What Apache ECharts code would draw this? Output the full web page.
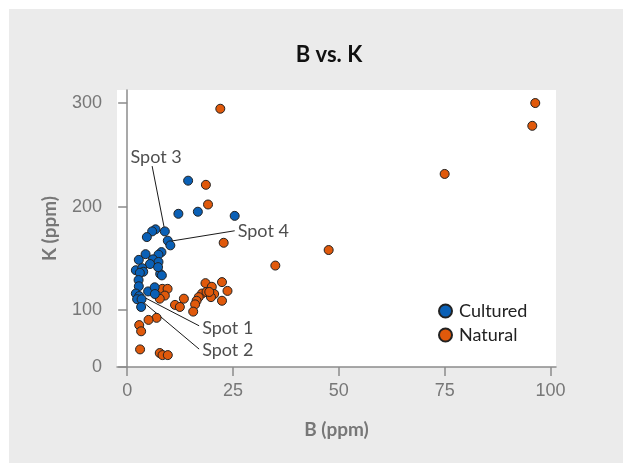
<!DOCTYPE html>
<html>
<head>
<meta charset="utf-8">
<script src="https://cdn.jsdelivr.net/npm/echarts@6/dist/echarts.min.js"></script>
<style>
  html, body { margin: 0; padding: 0; background: #ffffff; width: 623px; height: 463px; overflow: hidden; }
  #chart { position: absolute; left: 9px; top: 9px; width: 614px; height: 454px; background: #ebebeb; }
</style>
</head>
<body>
<div id="chart"></div>
<script>
// ---- data ----
const culturedB = [14.4, 12.1, 16.7, 25.4, 8.9, 6.7, 5.9, 4.65, 9.6, 10.2, 8.1, 7.4, 4.35, 6.1, 7.4, 2.75, 5.4, 2.05, 3.55, 3.8, 3.0, 7.8, 8.2, 2.7, 2.75, 4.95, 6.5, 6.55, 2.05, 2.85, 2.35, 3.4, 3.3, 7.3];
const culturedK = [225, 193, 195, 191, 176, 178, 176, 170.5, 167, 162.5, 156, 153.5, 154, 149, 146.5, 148.5, 144.5, 138.5, 140.5, 137, 136, 135, 133.5, 129, 123, 118, 122, 115.5, 116, 113.5, 110.5, 110.5, 103, 141.5];
const naturalB = [22.0, 18.6, 19.1, 22.8, 47.6, 35.0, 96.4, 95.7, 75.0, 18.5, 22.4, 20.0, 23.7, 17.7, 18.75, 20.55, 19.8, 22.4, 16.9, 16.4, 16.05, 15.6, 13.4, 11.3, 12.45, 8.3, 9.55, 8.9, 7.7, 6.95, 5.05, 2.85, 3.3, 3.05, 7.7, 8.35, 9.6, 19.4];
const naturalK = [294.5, 221, 202, 165, 158, 143, 300, 278, 231.5, 126, 127, 122.5, 118.5, 116, 117.5, 115.5, 112.5, 109, 112.5, 109, 105.5, 98.5, 111, 105, 103, 120.5, 120.5, 114, 111, 92.5, 90.5, 85.5, 79.5, 62, 58.5, 56.5, 56.5, 117.5];

const seriesNames = ['Cultured', 'Natural'];
const xTickValues = [0, 25, 50, 75, 100];
const yMin = 45;
const yTickValues = [yMin, 100, 200, 300];
const yTickLabels = ['0', '100', '200', '300'];

// annotations: label, label anchor [B, K], target point [B, K]
const annotLabels = ['Spot 1', 'Spot 2', 'Spot 3', 'Spot 4'];
const annotFrom = [[17.0, 84.8], [17.0, 62.3], [5.9, 239.1], [25.4, 176.6]];
const annotTo = [[2.05, 116.5], [2.4, 112.5], [8.9, 176.5], [10.5, 166.7]];

// ---- chart ----
const chart = echarts.init(document.getElementById('chart'), null, { renderer: 'canvas' });
const colors = ['#0a60b6', '#e0590b'];
const pairs = (a, b) => a.map((v, i) => [v, b[i]]);

const annotLineSeries = annotLabels.map((lab, i) => ({
  type: 'line',
  name: 'annot-' + lab,
  data: [annotFrom[i], annotTo[i]],
  symbol: 'none',
  silent: true,
  z: 1,
  lineStyle: { color: '#1a1a1a', width: 1 },
  animation: false
}));

const labelPos = ['right', 'right', 'top', 'right'];
const labelOffset = [[0, 2], [0, 1], [4, 3], [0, 0]];
const annotLabelSeries = {
  type: 'scatter',
  name: 'annot-labels',
  symbolSize: 0,
  silent: true,
  z: 5,
  data: annotLabels.map((lab, i) => ({
    name: lab,
    value: annotFrom[i],
    label: {
      show: true,
      formatter: lab,
      position: labelPos[i],
      distance: 3,
      offset: labelOffset[i],
      color: '#222',
      fontFamily: 'Lato',
      fontSize: 18
    }
  })),
  animation: false
};

const option = {
  backgroundColor: '#ebebeb',
  animation: false,
  title: {
    text: 'B vs. K',
    left: 315,
    textAlign: 'center',
    top: 30,
    textStyle: { fontFamily: 'Lato', fontWeight: 'bold', fontSize: 22, color: '#111' }
  },
  legend: {
    data: seriesNames,
    orient: 'vertical',
    left: 424,
    top: 288,
    icon: 'circle',
    itemWidth: 17,
    itemHeight: 13,
    itemGap: 6,
    textStyle: { fontFamily: 'Lato', fontSize: 18, color: '#222' }
  },
  grid: {
    left: 108, top: 81, right: 67, bottom: 96,
    show: true, backgroundColor: '#ffffff', borderWidth: 0
  },
  xAxis: {
    type: 'value',
    min: -2.4, max: 101.3,
    name: 'B (ppm)',
    nameLocation: 'middle',
    nameGap: 53,
    nameTextStyle: { fontFamily: 'Lato', fontWeight: 'bold', fontSize: 19, color: '#777' },
    axisLine: { show: true, lineStyle: { color: '#8c8c8c', width: 1.5 } },
    axisTick: { show: true, length: 9, customValues: xTickValues, lineStyle: { color: '#8c8c8c', width: 1.5 } },
    axisLabel: { customValues: xTickValues, margin: 15, color: '#777', fontFamily: 'Liberation Sans', fontSize: 18 },
    splitLine: { show: false }
  },
  yAxis: {
    type: 'value',
    min: yMin, max: 312.6,
    name: 'K (ppm)',
    nameLocation: 'middle',
    nameGap: 58,
    nameTextStyle: { fontFamily: 'Lato', fontWeight: 'bold', fontSize: 19, color: '#777' },
    axisLine: { show: true, lineStyle: { color: '#8c8c8c', width: 1.5 } },
    axisTick: { show: true, length: 9, customValues: yTickValues, lineStyle: { color: '#8c8c8c', width: 1.5 } },
    axisLabel: {
      customValues: yTickValues, margin: 15, color: '#777', fontFamily: 'Liberation Sans', fontSize: 18,
      formatter: v => yTickLabels[yTickValues.indexOf(v)]
    },
    splitLine: { show: false }
  },
  series: [
    {
      type: 'scatter', name: seriesNames[0], data: pairs(culturedB, culturedK),
      symbolSize: 9, z: 3,
      itemStyle: { color: colors[0], borderColor: '#222', borderWidth: 1, opacity: 1 }
    },
    {
      type: 'scatter', name: seriesNames[1], data: pairs(naturalB, naturalK),
      symbolSize: 9, z: 2,
      itemStyle: { color: colors[1], borderColor: '#222', borderWidth: 1, opacity: 1 }
    },
    ...annotLineSeries,
    annotLabelSeries
  ]
};
chart.setOption(option);
</script>
</body>
</html>
